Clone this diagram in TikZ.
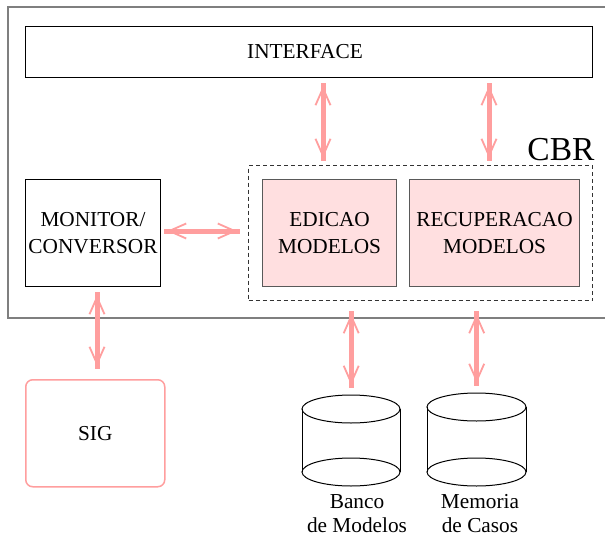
\documentclass[tikz,border=0pt]{standalone}
\usepackage{fontspec}
\setmainfont{Liberation Serif}
\usetikzlibrary{arrows.meta,calc}
\definecolor{flowpink}{HTML}{FF9E9E}
\definecolor{boxpink}{HTML}{FFDFE0}
\definecolor{framegray}{HTML}{7F7F7F}

% double-headed flow: thick shaft plus barbed heads
\newcommand\biflow[4]{%
  \draw[flow, shorten <=#3, shorten >=#4] #1 -- #2;
  \draw[flowtips, shorten <=#3+3pt, shorten >=#4+3pt] #1 -- #2;}

\begin{document}
\begin{tikzpicture}[x=1pt,y=-1pt,
  lbl/.style={font=\fontsize{21.3}{26.5}\selectfont, align=center},
  plainbox/.style={draw=black, line width=1pt, fill=white, inner sep=0pt, anchor=north west},
  module/.style={draw=black!65, line width=1.2pt, fill=boxpink, inner sep=0pt, anchor=north west},
  flow/.style={draw=flowpink, line width=5pt},
  flowtips/.style={draw=flowpink, line width=1.8pt,
    {Straight Barb[length=17pt,width=15pt]}-{Straight Barb[length=17pt,width=15pt]}},
]
\useasboundingbox (0,0) rectangle (605,538);
\fill[white] (0,0) rectangle (605,538);

% system frame (open to the right)
\begin{scope}
  \clip (0,0) rectangle (605,538);
  \draw[framegray, line width=2pt] (8,7) rectangle (615,318);
\end{scope}

% boxes
\node[plainbox, minimum width=567pt, minimum height=51pt, lbl] (iface) at (25,26) {\hspace*{-8pt}INTERFACE};
\node[plainbox, minimum width=135pt, minimum height=107pt, lbl] (mon) at (25,179) {MONITOR/\\CONVERSOR};
\node[draw=black!80, line width=1pt, dash pattern=on 4pt off 3pt, inner sep=0pt, anchor=north west,
      minimum width=344pt, minimum height=135pt] (cbr) at (248,165) {};
\node[lbl, font=\fontsize{33.5}{33.5}\selectfont, anchor=base east] (cbrlbl) at (598,160) {CBR};
\node[module, minimum width=134pt, minimum height=107pt, lbl] (ed) at (262,179) {EDICAO\\MODELOS};
\node[module, minimum width=170pt, minimum height=107pt, lbl] (rec) at (409,179) {RECUPERACAO\\MODELOS};
\node[draw=flowpink, line width=1.5pt, rounded corners=7pt, fill=white, inner sep=0pt, anchor=north west,
      minimum width=139pt, minimum height=107pt, lbl] (sig) at (25,379) {SIG};

% stores
\node[inner sep=0pt, anchor=north west, minimum width=98pt, minimum height=91pt] (bank) at (302,395) {};
\node[inner sep=0pt, anchor=north west, minimum width=99pt, minimum height=93pt] (cases) at (427,393) {};
\draw[black, line width=1pt] (302,409) -- (302,472) (400,409) -- (400,472);
\draw[black, line width=1pt] (351,409) ellipse [x radius=49pt, y radius=14pt];
\draw[black, line width=1pt] (351,472) ellipse [x radius=49pt, y radius=14pt];
\draw[black, line width=1pt] (427,407) -- (427,472) (526,407) -- (526,472);
\draw[black, line width=1pt] (476.5,407) ellipse [x radius=49.5pt, y radius=14pt];
\draw[black, line width=1pt] (476.5,472) ellipse [x radius=49.5pt, y radius=14pt];
\node[lbl, anchor=base] (banklbl) at (357,508) {Banco};
\node[lbl, anchor=base] (banklbl2) at (357,532) {de Modelos};
\node[lbl, anchor=base] (caselbl) at (480,508) {Memoria};
\node[lbl, anchor=base] (caselbl2) at (480,532) {de Casos};

% flow positions
\coordinate (xa) at (323,0);
\coordinate (xb) at (489,0);
\coordinate (xc) at (97,0);
\coordinate (ya) at (0,231);

% flows
\biflow{(iface.south -| xa)}{(cbr.north -| xa)}{5pt}{4pt}
\biflow{(iface.south -| xb)}{(cbr.north -| xb)}{5pt}{4pt}
\biflow{(mon.east |- ya)}{(cbr.west |- ya)}{3pt}{8pt}
\biflow{(mon.south -| xc)}{(sig.north -| xc)}{5pt}{10pt}
\biflow{(cbr.south -| bank.north)}{(bank.north)}{10pt}{7pt}
\biflow{(cbr.south -| cases.north)}{(cases.north)}{10pt}{7pt}
\end{tikzpicture}
\end{document}
